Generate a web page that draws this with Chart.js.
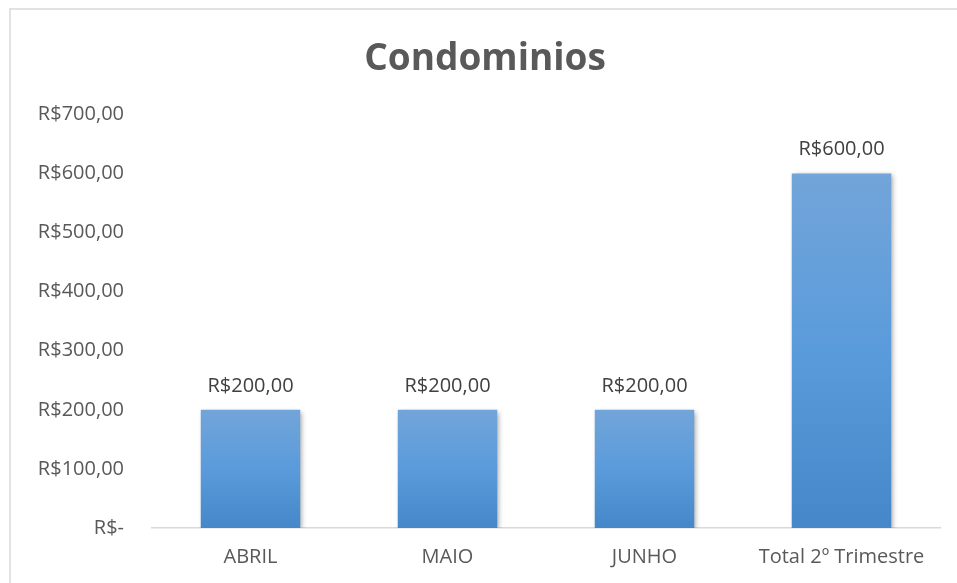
<!DOCTYPE html>
<html>
<head>
<meta charset="utf-8">
<script src="https://cdn.jsdelivr.net/npm/chart.js@4.4.0/dist/chart.umd.min.js"></script>
<style>
  html, body { margin: 0; padding: 0; background: #ffffff; }
  #wrap { position: relative; width: 957px; height: 583px; }
</style>
</head>
<body>
<div id="wrap"><canvas id="c" width="957" height="583"></canvas></div>
<script>
const categories = ['ABRIL', 'MAIO', 'JUNHO', 'Total 2º Trimestre'];
const values = [200, 200, 200, 600];
const dataLabels = ['R$200,00', 'R$200,00', 'R$200,00', 'R$600,00'];
const yTickValues = [0, 100, 200, 300, 400, 500, 600, 700];
const yTickLabels = ['R$-', 'R$100,00', 'R$200,00', 'R$300,00', 'R$400,00', 'R$500,00', 'R$600,00', 'R$700,00'];
const chartTitle = 'Condominios';

const FONT = "'Open Sans', 'Liberation Sans', sans-serif";

const frame = {
  id: 'frame',
  beforeDraw(chart) {
    const ctx = chart.ctx;
    ctx.save();
    ctx.fillStyle = '#ffffff';
    ctx.fillRect(0, 0, chart.width, chart.height);
    ctx.strokeStyle = '#d9d9d9';
    ctx.lineWidth = 1.5;
    ctx.strokeRect(10, 9, chart.width + 20, chart.height + 20);
    ctx.restore();
  }
};

const shadow = {
  id: 'shadow',
  beforeDatasetDraw(chart) {
    const ctx = chart.ctx;
    ctx.save();
    ctx.shadowColor = 'rgba(0,0,0,0.35)';
    ctx.shadowBlur = 5;
    ctx.shadowOffsetX = 2;
    ctx.shadowOffsetY = 2;
  },
  afterDatasetDraw(chart) {
    chart.ctx.restore();
  }
};

const labelsPlugin = {
  id: 'barLabels',
  afterDatasetsDraw(chart) {
    const ctx = chart.ctx;
    const meta = chart.getDatasetMeta(0);
    ctx.save();
    ctx.font = '20px ' + FONT;
    ctx.fillStyle = '#404040';
    ctx.textAlign = 'center';
    ctx.textBaseline = 'alphabetic';
    meta.data.forEach((bar, i) => {
      ctx.fillText(dataLabels[i], bar.x, bar.y - 18);
    });
    ctx.restore();
  }
};

function barGradient(context) {
  const chart = context.chart;
  const y = chart.scales && chart.scales.y;
  if (!chart.chartArea || !y || context.parsed === undefined) return '#5b9bd5';
  const top = y.getPixelForValue(context.parsed.y);
  const bottom = y.getPixelForValue(0);
  if (!isFinite(top) || !isFinite(bottom) || top === bottom) return '#5b9bd5';
  const g = chart.ctx.createLinearGradient(0, top, 0, bottom);
  g.addColorStop(0, '#72a5d9');
  g.addColorStop(0.5, '#5a9bdb');
  g.addColorStop(1, '#4587c8');
  return g;
}

new Chart(document.getElementById('c'), {
  type: 'bar',
  data: {
    labels: categories,
    datasets: [{
      data: values,
      backgroundColor: barGradient,
      borderWidth: 0,
      barPercentage: 0.505,
      categoryPercentage: 1.0
    }]
  },
  options: {
    responsive: false,
    animation: false,
    devicePixelRatio: 1,
    layout: { padding: { left: 30, right: 17, top: 0, bottom: 0 } },
    plugins: {
      legend: { display: false },
      tooltip: { enabled: false },
      title: {
        display: true,
        text: chartTitle,
        color: '#595959',
        font: { family: FONT, size: 37, weight: 'bold', lineHeight: 1.2 },
        padding: { top: 37, bottom: 33 }
      }
    },
    scales: {
      x: {
        afterFit(scale) { scale.height = 55; },
        grid: { display: false, drawTicks: false },
        border: { display: true, color: '#d9d9d9', width: 1.5 },
        ticks: { color: '#595959', font: { family: FONT, size: 20 }, padding: 17, maxRotation: 0, autoSkip: false }
      },
      y: {
        min: 0,
        max: 700,
        afterBuildTicks(scale) {
          scale.ticks = yTickValues.map(v => ({ value: v }));
        },
        afterFit(scale) { scale.width = 122; },
        grid: { display: false, drawTicks: false },
        border: { display: false },
        ticks: {
          color: '#595959',
          font: { family: FONT, size: 20 },
          padding: 28,
          callback: (v) => {
            const i = yTickValues.indexOf(v);
            return i >= 0 ? yTickLabels[i] : '';
          }
        }
      }
    }
  },
  plugins: [frame, shadow, labelsPlugin]
});
</script>
</body>
</html>
